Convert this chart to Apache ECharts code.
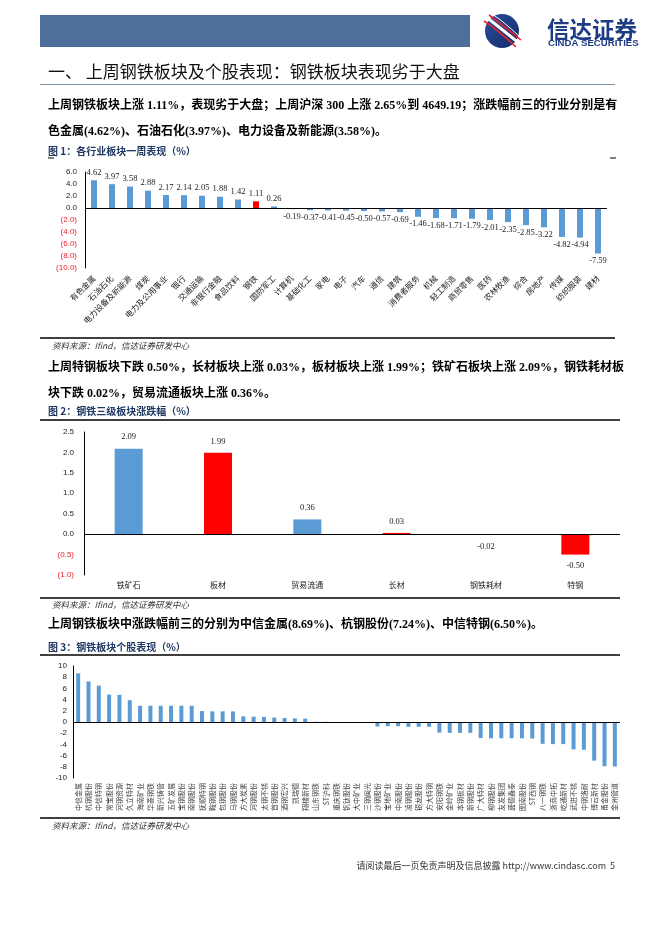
<!DOCTYPE html>
<html>
<head>
<meta charset="utf-8">
<script src="https://cdn.jsdelivr.net/npm/echarts@6/dist/echarts.min.js"></script>
<style>
html,body{margin:0;padding:0;background:#fff;}
#main{width:662px;height:936px;}
</style>
</head>
<body>
<div id="main"></div>
<script>
// ---------- DATA ----------
const industryCats = ['有色金属','石油石化','电力设备及新能源','煤炭','电力及公用事业','银行','交通运输','非银行金融','食品饮料','钢铁','国防军工','计算机','基础化工','家电','电子','汽车','通信','建筑','消费者服务','机械','轻工制造','商贸零售','医药','农林牧渔','综合','房地产','传媒','纺织服装','建材'];
const industryVals = [4.62,3.97,3.58,2.88,2.17,2.14,2.05,1.88,1.42,1.11,0.26,-0.19,-0.37,-0.41,-0.45,-0.50,-0.57,-0.69,-1.46,-1.68,-1.71,-1.79,-2.01,-2.35,-2.85,-3.22,-4.82,-4.94,-7.59];
const highlightIndustry = '钢铁';

const steelSubCats = ['铁矿石','板材','贸易流通','长材','钢铁耗材','特钢'];
const steelSubVals = [2.09,1.99,0.36,0.03,-0.02,-0.50];

const stockNames = ['中信金属','杭钢股份','中信特钢','常宝股份','河钢资源','久立特材','海南矿业','华菱钢铁','新兴铸管','五矿发展','宝钢股份','南钢股份','抚顺特钢','鞍钢股份','包钢股份','马钢股份','方大炭素','河钢股份','太钢不锈','首钢股份','酒钢宏兴','凯瑞德','翔楼新材','山东钢铁','ST沪科','重庆钢铁','钒钛股份','大中矿业','三钢闽光','沙钢股份','宝地矿业','中南股份','凌钢股份','银龙股份','方大特钢','安阳钢铁','金岭矿业','本钢板材','新钢股份','广大特材','柳钢股份','友发集团','盛德鑫泰','图南股份','ST西钢','八一钢铁','浙商中拓','屹通新材','武进不锈','中钢洛耐','博云新材','甬金股份','金洲管道'];
const stockVals = [8.69,7.24,6.50,4.90,4.85,3.90,2.90,2.90,2.90,2.90,2.90,2.90,1.95,1.90,1.90,1.90,1.00,0.95,0.90,0.80,0.70,0.65,0.60,0.05,0.03,0.00,-0.02,-0.05,-0.10,-0.80,-0.75,-0.75,-0.85,-0.85,-0.85,-1.90,-1.95,-1.95,-1.95,-2.85,-2.90,-2.90,-2.90,-2.90,-2.95,-3.90,-3.95,-3.95,-4.90,-4.95,-6.90,-7.90,-7.95];

const axis1 = {min:-10, max:6, interval:2};
const axis2 = {min:-1, max:2.5, interval:0.5};
const axis3 = {min:-10, max:10, interval:2};

// ---------- STYLE ----------
const BLUE = '#5b9bd5', RED = '#ff0000';
const CJK = '"Noto Sans CJK SC"';
const SERIF = '"Liberation Serif"';
const SANS = '"Liberation Sans"';

function parenFmt(d){ return function(v){ return v < 0 ? '(' + Math.abs(v).toFixed(d) + ')' : v.toFixed(d); }; }
function negRed(v){ return v < 0 ? '#e8202a' : '#222'; }

const chart = echarts.init(document.getElementById('main'), null, {renderer:'canvas'});

function txt(text, x, y, font, fill, align, extra){
  return Object.assign({type:'text', silent:true, style:{text:text, x:x, y:y, font:font, fill:fill||'#000', textAlign:align||'left', textVerticalAlign:'middle'}}, extra||{});
}
function line(x1,y1,x2,y2,color,w){
  return {type:'line', silent:true, shape:{x1:x1,y1:y1,x2:x2,y2:y2}, style:{stroke:color, lineWidth:w}};
}

const paraFont = 'bold 12px ' + SERIF + ',' + CJK;
const capFont = 'bold 10px ' + CJK;
const capColor = '#1f3864';
const srcFont = 'italic 8.5px ' + CJK;

const graphics = [
  // header bar
  {type:'rect', silent:true, shape:{x:40,y:15,width:430,height:32}, style:{fill:'#4d6f9a'}},
  // logo circle
  {type:'circle', silent:true, shape:{cx:502,cy:31,r:17}, style:{fill:{type:'linear',x:0,y:0,x2:1,y2:1,colorStops:[{offset:0,color:'#2a4ea0'},{offset:1,color:'#132a66'}]}}},
  {type:'bezierCurve', silent:true, shape:{x1:486,y1:17,cpx1:498,cpy1:26,x2:520,y2:44}, style:{stroke:'#ffffff',lineWidth:3,fill:null}},
  {type:'bezierCurve', silent:true, shape:{x1:484,y1:21,cpx1:497,cpy1:29,x2:516,y2:47}, style:{stroke:'#e0262c',lineWidth:1.6,fill:null}},
  {type:'bezierCurve', silent:true, shape:{x1:489,y1:15,cpx1:500,cpy1:23,x2:521,y2:40}, style:{stroke:'#e0262c',lineWidth:1.6,fill:null}},
  {type:'bezierCurve', silent:true, shape:{x1:492,y1:14,cpx1:503,cpy1:21,x2:519,y2:36}, style:{stroke:'#ffffff',lineWidth:1,fill:null}},
  txt('信达证券', 547, 29, 'bold 22.5px ' + CJK, '#1d3c84'),
  txt('CINDA SECURITIES', 548, 43, 'bold 9.6px ' + SANS, '#1d3c84'),

  // section title
  txt('一、 上周钢铁板块及个股表现：钢铁板块表现劣于大盘', 48, 72, '17px ' + CJK, '#111'),
  line(40, 84.5, 615, 84.5, '#7f90aa', 1),

  // paragraph 1
  txt('上周钢铁板块上涨 1.11%，表现劣于大盘；上周沪深 300 上涨 2.65%到 4649.19；涨跌幅前三的行业分别是有', 48, 106, paraFont, '#000'),
  txt('色金属(4.62%)、石油石化(3.97%)、电力设备及新能源(3.58%)。', 48, 132, paraFont, '#000'),
  txt('图 1：各行业板块一周表现（%）', 48, 151, capFont, capColor),
  line(48, 158, 54, 158, '#000', 1),
  line(610, 158, 616, 158, '#000', 1),
  line(40, 338, 615, 338, '#000', 1.5),
  txt('资料来源：Ifind，信达证券研发中心', 52, 346, srcFont, '#333'),

  // paragraph 2
  txt('上周特钢板块下跌 0.50%，长材板块上涨 0.03%，板材板块上涨 1.99%；铁矿石板块上涨 2.09%，钢铁耗材板', 48, 368, paraFont, '#000'),
  txt('块下跌 0.02%，贸易流通板块上涨 0.36%。', 48, 394, paraFont, '#000'),
  txt('图 2：钢铁三级板块涨跌幅（%）', 48, 411, capFont, capColor),
  line(40, 420, 620, 420, '#000', 1.3),
  line(40, 598, 620, 598, '#000', 1.3),
  txt('资料来源：Ifind，信达证券研发中心', 52, 605, srcFont, '#333'),

  // paragraph 3
  txt('上周钢铁板块中涨跌幅前三的分别为中信金属(8.69%)、杭钢股份(7.24%)、中信特钢(6.50%)。', 48, 625, paraFont, '#000'),
  txt('图 3：钢铁板块个股表现（%）', 48, 647, capFont, capColor),
  line(40, 655, 620, 655, '#000', 1.3),
  line(40, 818, 620, 818, '#000', 1.3),
  txt('资料来源：Ifind，信达证券研发中心', 52, 826, srcFont, '#333'),

  // footer
  txt('请阅读最后一页免责声明及信息披露 http://www.cindasc.com  5', 615, 866, '9px ' + CJK, '#333', 'right')
];

const labelSerif = {fontFamily: SERIF, fontSize: 8.5, color:'#222', distance: 3};

const data1 = industryVals.map(function(v,i){
  return {value:v, itemStyle:{color: industryCats[i] === highlightIndustry ? RED : BLUE},
          label:{position: v < 0 ? 'bottom' : 'top'}};
});
const subColors = [BLUE, RED, BLUE, RED, BLUE, RED];
const data2 = steelSubVals.map(function(v,i){
  return {value:v, itemStyle:{color: subColors[i]}, label:{position: v < 0 ? 'bottom' : 'top'}};
});

const zeroLine = {silent:true, symbol:'none', label:{show:false}, lineStyle:{color:'#000', width:1.2, type:'solid'}, data:[{yAxis:0}], animation:false};

const option = {
  animation:false,
  graphic: graphics,
  grid:[
    {left:85, right:55, top:172, height:96},
    {left:84, right:42, top:432, height:143},
    {left:73, right:42, top:666, height:112}
  ],
  xAxis:[
    {gridIndex:0, type:'category', data:industryCats, axisLine:{show:false, onZero:false}, axisTick:{show:false},
     axisLabel:{interval:0, rotate:45, fontFamily:CJK, fontSize:8, color:'#222', margin:9}},
    {gridIndex:1, type:'category', data:steelSubCats, axisLine:{show:false, onZero:false}, axisTick:{show:false},
     axisLabel:{interval:0, fontFamily:CJK, fontSize:8, color:'#222', margin:6}},
    {gridIndex:2, type:'category', data:stockNames, axisLine:{show:false, onZero:false}, axisTick:{show:false},
     axisLabel:{interval:0, rotate:90, fontFamily:CJK, fontSize:7, color:'#444', margin:5}}
  ],
  yAxis:[
    {gridIndex:0, type:'value', min:axis1.min, max:axis1.max, interval:axis1.interval,
     axisLine:{show:true, lineStyle:{color:'#000', width:1}}, axisTick:{show:false}, splitLine:{show:false},
     axisLabel:{formatter:parenFmt(1), color:negRed, fontFamily:SANS, fontSize:8, margin:8}},
    {gridIndex:1, type:'value', min:axis2.min, max:axis2.max, interval:axis2.interval,
     axisLine:{show:true, lineStyle:{color:'#000', width:1}}, axisTick:{show:false}, splitLine:{show:false},
     axisLabel:{formatter:parenFmt(1), color:negRed, fontFamily:SANS, fontSize:8, margin:10}},
    {gridIndex:2, type:'value', min:axis3.min, max:axis3.max, interval:axis3.interval,
     axisLine:{show:true, lineStyle:{color:'#000', width:1}}, axisTick:{show:false}, splitLine:{show:false},
     axisLabel:{color:'#222', fontFamily:SANS, fontSize:8, margin:6}}
  ],
  series:[
    {type:'bar', xAxisIndex:0, yAxisIndex:0, data:data1, barWidth:6,
     label:Object.assign({show:true, formatter:function(p){return p.value.toFixed(2);}}, labelSerif),
     markLine:zeroLine},
    {type:'bar', xAxisIndex:1, yAxisIndex:1, data:data2, barWidth:28,
     label:Object.assign({show:true, formatter:function(p){return p.value.toFixed(2);}}, labelSerif, {distance:7}),
     markLine:zeroLine},
    {type:'bar', xAxisIndex:2, yAxisIndex:2, data:stockVals, barWidth:4, itemStyle:{color:BLUE},
     markLine:zeroLine}
  ]
};
chart.setOption(option);
</script>
</body>
</html>
